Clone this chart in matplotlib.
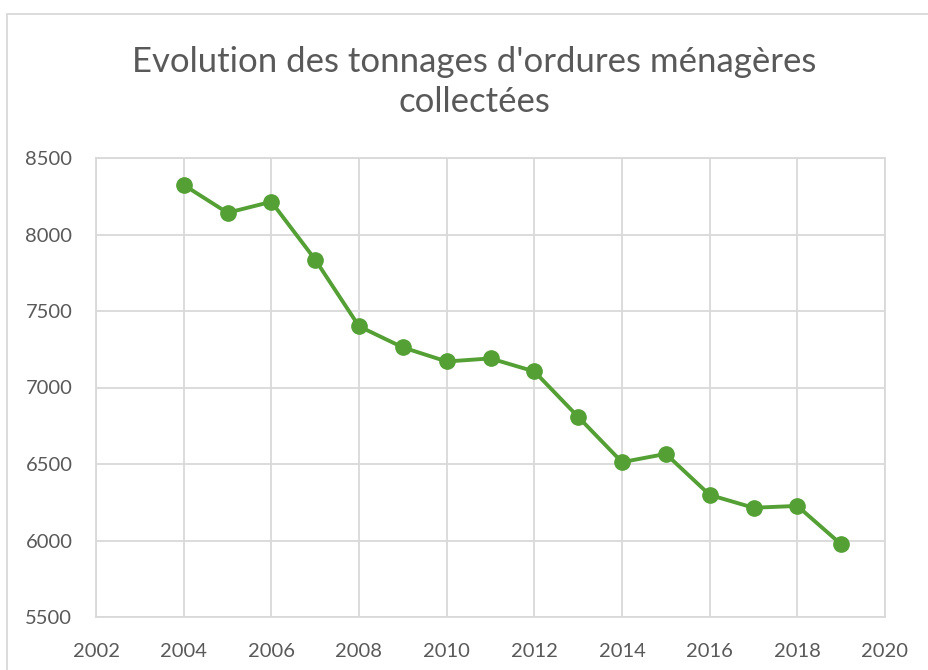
import matplotlib.pyplot as plt
from matplotlib.patches import Rectangle

years = [2004, 2005, 2006, 2007, 2008, 2009, 2010, 2011, 2012, 2013, 2014, 2015, 2016, 2017, 2018, 2019]
tonnages = [8324, 8142, 8214, 7836, 7400, 7262, 7170, 7190, 7105, 6808, 6512, 6566, 6298, 6214, 6226, 5975]
title = "Evolution des tonnages d'ordures ménagères\ncollectées"

plt.rcParams['font.family'] = ['Lato', 'DejaVu Sans']
text_color = '#595959'
grid_color = '#d9d9d9'
green = '#54a035'

fig = plt.figure(figsize=(9.29, 6.70), dpi=100)
fig.patches.append(Rectangle((7 / 929, -0.1), 1.2, 1 - 14 / 670 + 0.1, transform=fig.transFigure,
                             fill=False, edgecolor=grid_color, linewidth=1.3))

ax = fig.add_axes([96 / 929, 1 - 617 / 670, (885 - 96) / 929, (617 - 158) / 670])
ax.plot(years, tonnages, color=green, linewidth=2.8, marker='o', markersize=11, zorder=3)

ax.set_xlim(2002, 2020)
ax.set_ylim(5500, 8500)
ax.set_xticks(range(2002, 2021, 2))
ax.set_yticks(range(5500, 8501, 500))
ax.grid(True, color=grid_color, linewidth=1.3)
for s in ax.spines.values():
    s.set_color(grid_color)
    s.set_linewidth(1.3)
ax.tick_params(length=0, labelsize=14.5, colors=text_color)
ax.tick_params(axis='y', pad=17)
ax.tick_params(axis='x', pad=19)

fig.text(474 / 929, 1 - 82 / 670, title, ha='center', va='center', fontsize=25,
         color=text_color, linespacing=1.32)

fig.savefig('out.png', dpi=100)
